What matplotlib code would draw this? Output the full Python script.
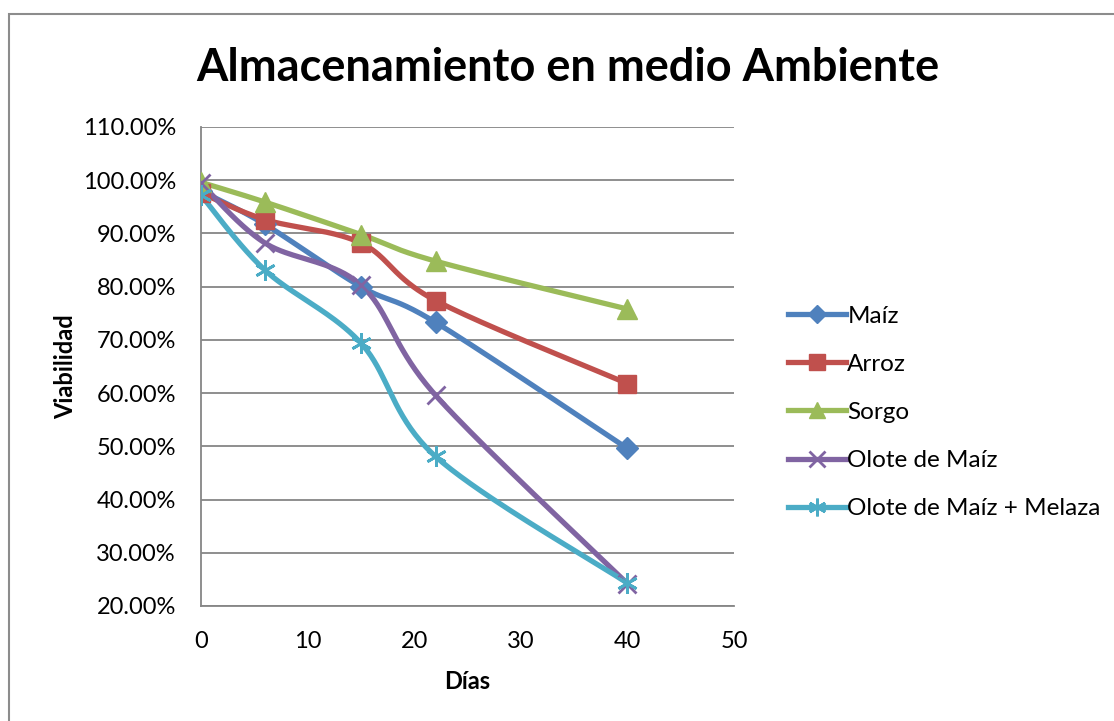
import numpy as np
import matplotlib.pyplot as plt
from matplotlib.patches import Rectangle

plt.rcParams['font.family'] = ['Lato', 'DejaVu Sans']

dias = [0, 6, 15, 22, 40]
maiz = [98.0, 91.7, 80.0, 73.3, 49.6]
arroz = [97.6, 92.6, 88.2, 77.4, 61.8]
sorgo = [99.6, 95.9, 89.8, 84.8, 75.8]
olote = [99.4, 88.2, 80.3, 59.6, 24.2]
olote_melaza = [97.2, 83.1, 69.4, 48.1, 24.3]

series = [
    ('Maíz', maiz, '#4F81BD', 'D', 11),
    ('Arroz', arroz, '#C0504D', 's', 13),
    ('Sorgo', sorgo, '#9BBB59', '^', 14),
    ('Olote de Maíz', olote, '#8064A2', 'x', 13),
    ('Olote de Maíz + Melaza', olote_melaza, '#4BACC6', (6, 2, 0), 15),
]


def smooth(x, y, n=40):
    '''bezier segments with catmull-rom control points'''
    x = np.asarray(x, float)
    y = np.asarray(y, float)
    px = np.concatenate([[x[0]], x, [x[-1]]])
    py = np.concatenate([[y[0]], y, [y[-1]]])
    t = np.linspace(0, 1, n)[:, None]
    xs, ys = [], []
    for i in range(1, len(px) - 2):
        p0 = np.array([px[i], py[i]])
        p3 = np.array([px[i + 1], py[i + 1]])
        c1 = p0 + (np.array([px[i + 1], py[i + 1]]) - np.array([px[i - 1], py[i - 1]])) / 6
        c2 = p3 - (np.array([px[i + 2], py[i + 2]]) - np.array([px[i], py[i]])) / 6
        seg = ((1 - t) ** 3) * p0 + 3 * ((1 - t) ** 2) * t * c1 + 3 * (1 - t) * t ** 2 * c2 + t ** 3 * p3
        xs.append(seg[:, 0])
        ys.append(seg[:, 1])
    return np.concatenate(xs), np.concatenate(ys)


fig = plt.figure(figsize=(11.14, 7.21), dpi=100)
fig.patches.append(Rectangle((9 / 1114, -0.05), 1.2, 1 - 14 / 721 + 0.05,
                             transform=fig.transFigure, fill=False,
                             edgecolor='#8c8c8c', linewidth=1.5))

ax = fig.add_axes([201 / 1114, 1 - 606 / 721, (734 - 201) / 1114, (606 - 127) / 721])

for name, vals, color, marker, ms in series:
    sx, sy = smooth(dias, vals)
    ax.plot(sx, sy, color=color, linewidth=3.8, solid_capstyle='round', zorder=3)
    mew = 2 if marker in ('x', (6, 2, 0)) else 1
    ax.plot(dias, vals, linestyle='none', marker=marker, markersize=ms,
            color=color, markeredgewidth=mew, zorder=4)
    # legend handle: line with marker
    ax.plot([], [], color=color, linewidth=3.8, marker=marker, markersize=ms * 0.85,
            markeredgewidth=mew, label=name)

ax.set_xlim(0, 50)
ax.set_ylim(20, 110)
ax.set_xticks(np.arange(0, 51, 10))
ax.set_yticks(np.arange(20, 111, 10))
ax.set_yticklabels([f'{v:.2f}%' for v in np.arange(20, 111, 10)])
ax.tick_params(length=0, labelsize=17)
ax.tick_params(axis='y', pad=18)
ax.tick_params(axis='x', pad=18)
ax.grid(axis='y', color='#868686', linewidth=1.3)
ax.set_axisbelow(True)
for side in ('top', 'right'):
    ax.spines[side].set_visible(False)
for side in ('left', 'bottom'):
    ax.spines[side].set_color('#868686')
    ax.spines[side].set_linewidth(1.3)

ax.set_xlabel('Días', fontsize=17, fontweight='bold', labelpad=13)
ax.set_ylabel('Viabilidad', fontsize=17, fontweight='bold', labelpad=4)
fig.text(568 / 1114, 1 - 68 / 721, 'Almacenamiento en medio Ambiente', fontsize=32.5,
         fontweight='bold', ha='center', va='center')

ax.legend(loc='center left', bbox_to_anchor=(1.101, 0.404), frameon=False,
          fontsize=17.5, labelspacing=1.12, handlelength=2.4, handletextpad=0.05,
          borderaxespad=0, borderpad=0)

fig.savefig('out.png', dpi=100)
